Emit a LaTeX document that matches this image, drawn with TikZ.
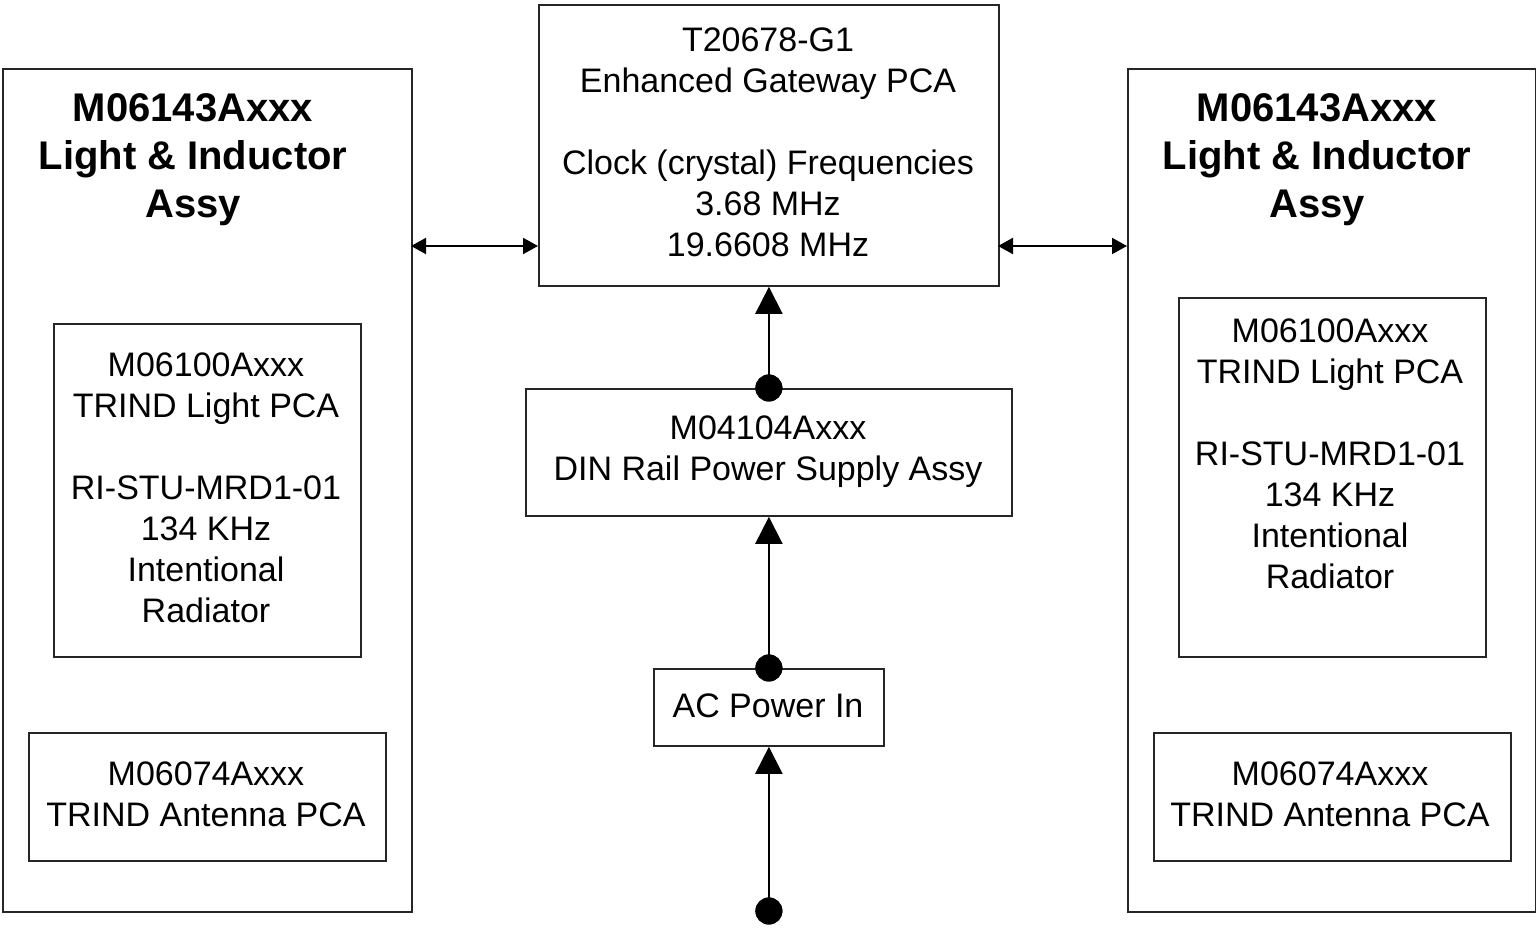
\documentclass[tikz,border=0pt]{standalone}
\usepackage{fontspec}
\setmainfont{Liberation Sans}
\usetikzlibrary{arrows.meta}
\begin{document}
\begin{tikzpicture}[x=1pt,y=-1pt,
  box/.style={draw=black!85,line width=1.8pt,anchor=north west,inner sep=0pt},
  txt/.style={align=center,font=\fontsize{34}{41}\selectfont,inner sep=0pt},
  ttl/.style={align=center,font=\fontsize{40}{48}\selectfont\bfseries,inner sep=0pt},
  conn/.style={line width=2pt,draw=black},
  bigtip/.style={-{Triangle[length=27pt,width=27pt]}},
  smalltip/.style={{Triangle[length=15pt,width=16pt]}-{Triangle[length=15pt,width=16pt]}},
  dot/.style={circle,fill=black,inner sep=0pt,minimum size=27pt}]
\useasboundingbox (0,0) rectangle (1536,928);
% outer boxes
\node[box,minimum width=409pt,minimum height=843pt] (lout) at (2,68) {};
\node[box,minimum width=408pt,minimum height=843pt] (rout) at (1127,68) {};
% inner boxes
\node[box,minimum width=307pt,minimum height=333pt] (lin1) at (53,323) {};
\node[box,minimum width=357pt,minimum height=128pt] (lin2) at (28,732) {};
\node[box,minimum width=307pt,minimum height=359pt] (rin1) at (1178,297) {};
\node[box,minimum width=357pt,minimum height=128pt] (rin2) at (1153,732) {};
% center boxes
\node[box,minimum width=460pt,minimum height=281pt] (top) at (538,4) {};
\node[box,minimum width=486pt,minimum height=127pt] (din) at (525,388) {};
\node[box,minimum width=230pt,minimum height=77pt] (ac) at (653,668) {};
% texts
\node[ttl] (ltitle) at (193,160) {M06143Axxx\\Light \& Inductor\\Assy};
\node[ttl] (rtitle) at (1317,160) {M06143Axxx\\Light \& Inductor\\Assy};
\node[txt] (lin1t) at (206,487.5) {M06100Axxx\\TRIND Light PCA\\~\\RI-STU-MRD1-01\\134 KHz\\Intentional\\Radiator};
\node[txt] (rin1t) at (1330,453.5) {M06100Axxx\\TRIND Light PCA\\~\\RI-STU-MRD1-01\\134 KHz\\Intentional\\Radiator};
\node[txt] (lin2t) at (206,794) {M06074Axxx\\TRIND Antenna PCA};
\node[txt] (rin2t) at (1330,794) {M06074Axxx\\TRIND Antenna PCA};
\node[txt] (topt) at (768,142.5) {T20678-G1\\Enhanced Gateway PCA\\~\\Clock (crystal) Frequencies\\3.68 MHz\\19.6608 MHz};
\node[txt] (dint) at (768,452) {M04104Axxx\\DIN Rail Power Supply Assy};
\node[txt] (act) at (768,706) {AC Power In};
% connectors
\coordinate (lA) at (411,246);
\coordinate (lB) at (538,246);
\coordinate (rA) at (998,246);
\coordinate (rB) at (1127,246);
\draw[conn,smalltip] (lA) -- (lB);
\draw[conn,smalltip] (rA) -- (rB);
\node[dot] (d1) at (din.north) {};
\node[dot] (d2) at (ac.north) {};
\node[dot] (d3) at (ac.south |- 0,911) {};
\draw[conn,bigtip] (d1.center) -- (top.south);
\draw[conn,bigtip] (d2.center) -- (din.south);
\draw[conn,bigtip] (d3.center) -- (ac.south);
\node[dot] at (d1.center) {};
\node[dot] at (d2.center) {};
\node[dot] at (d3.center) {};
\end{tikzpicture}
\end{document}
